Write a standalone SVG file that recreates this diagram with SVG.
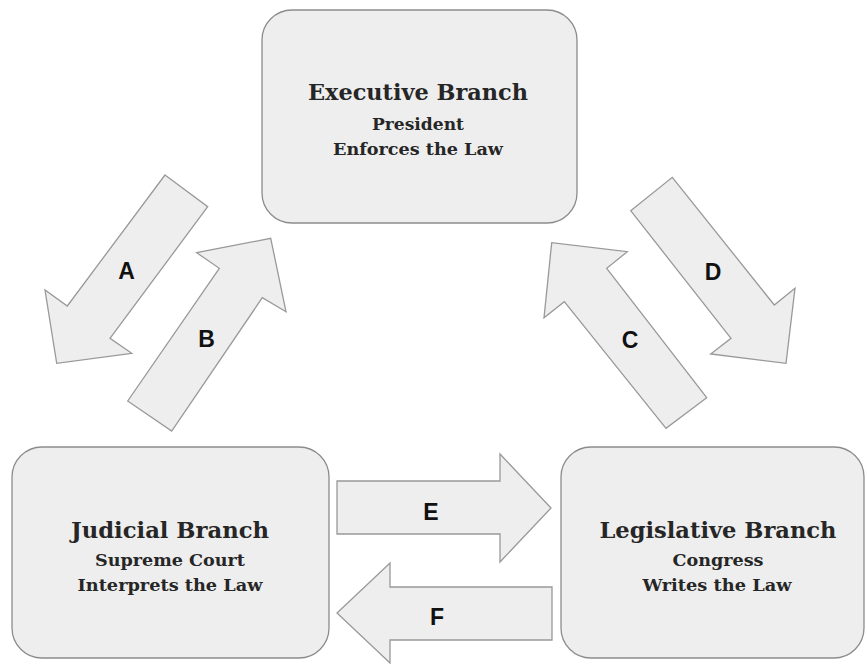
<svg xmlns="http://www.w3.org/2000/svg" width="867" height="664" viewBox="0 0 867 664">
<style>
.box{fill:#eeeeee;stroke:#8c8c8c;stroke-width:1.3}
.arr{fill:#eeeeee;stroke:#999999;stroke-width:1.3;stroke-linejoin:miter}
.t{font-family:"DejaVu Serif","Liberation Serif",serif;font-size:23px;font-weight:bold;fill:#262626;text-anchor:middle}
.s{font-family:"DejaVu Serif","Liberation Serif",serif;font-size:17.5px;font-weight:bold;fill:#262626;text-anchor:middle}
.l{font-family:"Liberation Sans",Arial,sans-serif;font-size:23px;font-weight:bold;fill:#111;text-anchor:middle}
</style>
<rect width="867" height="664" fill="#ffffff"/>
<g id="executive">
<rect class="box" x="262" y="10" width="315" height="213" rx="30"/>
<text class="t" x="418" y="100" textLength="220" lengthAdjust="spacingAndGlyphs">Executive Branch</text>
<text class="s" x="418" y="130" textLength="92" lengthAdjust="spacingAndGlyphs">President</text>
<text class="s" x="418" y="155" textLength="170" lengthAdjust="spacingAndGlyphs">Enforces the Law</text>
</g>
<g id="judicial">
<rect class="box" x="12" y="447" width="317" height="211" rx="30"/>
<text class="t" x="170" y="538" textLength="198" lengthAdjust="spacingAndGlyphs">Judicial Branch</text>
<text class="s" x="170" y="566" textLength="150" lengthAdjust="spacingAndGlyphs">Supreme Court</text>
<text class="s" x="170" y="591" textLength="185" lengthAdjust="spacingAndGlyphs">Interprets the Law</text>
</g>
<g id="legislative">
<rect class="box" x="561" y="447" width="303" height="211" rx="30"/>
<text class="t" x="718" y="538" textLength="237" lengthAdjust="spacingAndGlyphs">Legislative Branch</text>
<text class="s" x="718" y="566" textLength="91" lengthAdjust="spacingAndGlyphs">Congress</text>
<text class="s" x="717" y="591" textLength="149" lengthAdjust="spacingAndGlyphs">Writes the Law</text>
</g>
<g id="connectors">
<g id="arrow-A">
<polygon class="arr" points="165,175 207.7,206.7 110,338.3 131.7,353.3 56.7,363.3 45,290 67.3,306"/>
<text class="l" x="126.5" y="279">A</text>
</g>
<g id="arrow-B">
<polygon class="arr" points="127.7,401 171.7,431 262.3,297.7 286,311.7 270.7,238.3 196.7,252.7 219.3,268.3"/>
<text class="l" x="206.5" y="347">B</text>
</g>
<g id="arrow-C">
<polygon class="arr" points="706.7,397.7 666,428.3 564.3,301.7 544,317.7 551.7,242.7 627.3,251.7 606.7,268.3"/>
<text class="l" x="630" y="348">C</text>
</g>
<g id="arrow-D">
<polygon class="arr" points="630.7,210.7 672.3,177.3 774.3,305 795,288.3 786,363.3 710.7,354 731,338.3"/>
<text class="l" x="713" y="280">D</text>
</g>
<g id="arrow-E">
<polygon class="arr" points="337,481 500,481 500,454 551,508 500,562 500,534 337,534"/>
<text class="l" x="431" y="520">E</text>
</g>
<g id="arrow-F">
<polygon class="arr" points="552,587 390,587 390,563 337,613 390,663 390,640 552,640"/>
<text class="l" x="437" y="625">F</text>
</g>
</g>
</svg>
